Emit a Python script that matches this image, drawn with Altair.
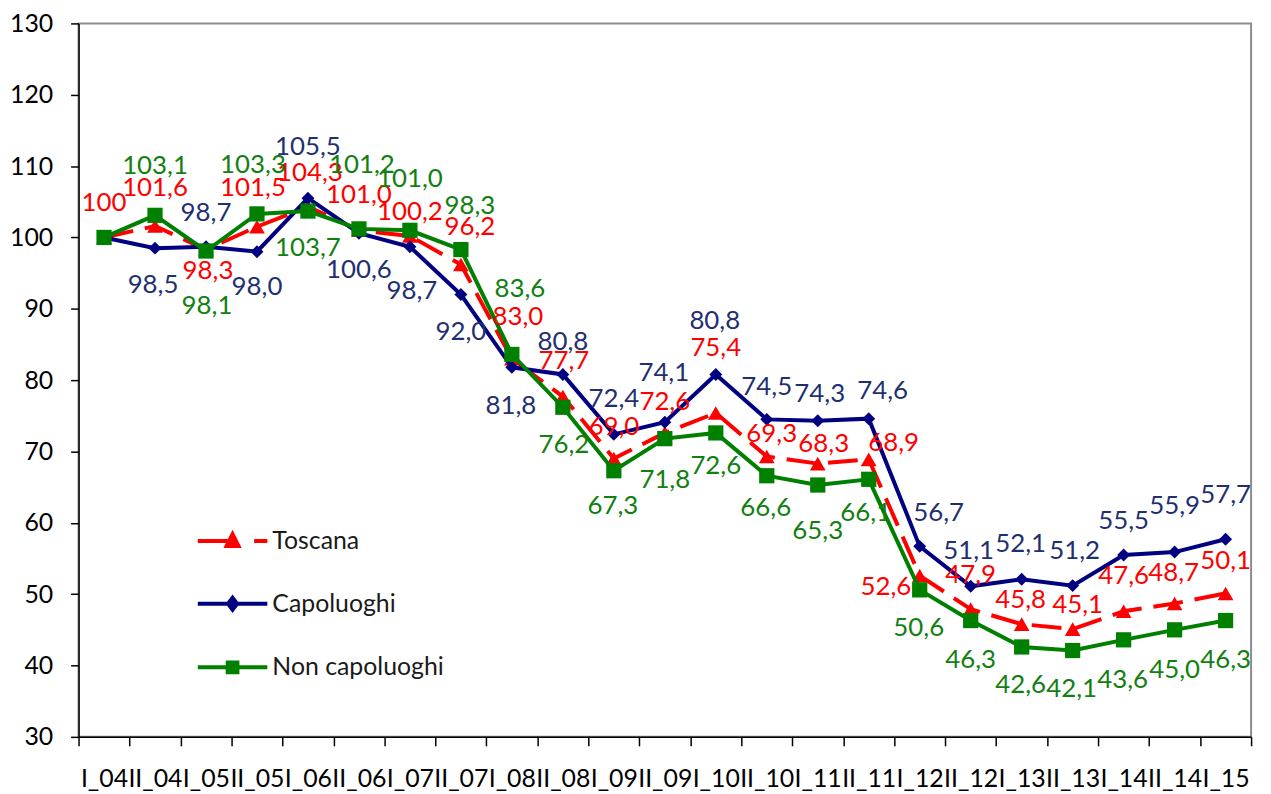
import altair as alt
import pandas as pd

# ---- data -------------------------------------------------------------
periods = ["I_04", "II_04", "I_05", "II_05", "I_06", "II_06", "I_07", "II_07",
           "I_08", "II_08", "I_09", "II_09", "I_10", "II_10", "I_11", "II_11",
           "I_12", "II_12", "I_13", "II_13", "I_14", "II_14", "I_15"]

toscana = [100.0, 101.6, 98.3, 101.5, 104.3, 101.0, 100.2, 96.2, 83.0, 77.7,
           69.0, 72.6, 75.4, 69.3, 68.3, 68.9, 52.6, 47.9, 45.8, 45.1, 47.6,
           48.7, 50.1]
capoluoghi = [100.0, 98.5, 98.7, 98.0, 105.5, 100.6, 98.7, 92.0, 81.8, 80.8,
              72.4, 74.1, 80.8, 74.5, 74.3, 74.6, 56.7, 51.1, 52.1, 51.2, 55.5,
              55.9, 57.7]
non_capoluoghi = [100.0, 103.1, 98.1, 103.3, 103.7, 101.2, 101.0, 98.3, 83.6,
                  76.2, 67.3, 71.8, 72.6, 66.6, 65.3, 66.1, 50.6, 46.3, 42.6,
                  42.1, 43.6, 45.0, 46.3]

series_names = ["Toscana", "Capoluoghi", "Non capoluoghi"]
series_values = [toscana, capoluoghi, non_capoluoghi]

# label texts shown on the chart (None = no label)
def fmt(v):
    return f"{v:.1f}".replace(".", ",")

toscana_labels = ["100"] + [fmt(v) for v in toscana[1:]]
capoluoghi_labels = [None] + [fmt(v) for v in capoluoghi[1:]]
non_capoluoghi_labels = [None] + [fmt(v) for v in non_capoluoghi[1:]]
series_labels = [toscana_labels, capoluoghi_labels, non_capoluoghi_labels]

# ---- styling / label placement (pixels) -------------------------------
line_colors = ["#FF0000", "#000080", "#008000"]
label_colors = ["#FF0000", "#1F3070", "#118011"]
marker_shapes = ["triangle-up", "diamond", "square"]
marker_sizes = [250, 170, 235]

toscana_dx = [0, 0, 2, -4, 2, 0, 0, 9, 6, 1, 0, 0, 0, 5, 6, 25, -34, 0, -1, 5, 0, -1, 0]
toscana_dy = [-35, -38, 22, -39, -34, -35, -24, -38, -42, -36, -32, -31, -65, -23,
              -20, -16, 12, -34, -24, -24, -35, -31, -33]
capoluoghi_dx = [0, -2, 0, 0, 0, 0, 2, 0, -1, 0, 0, -1, -1, 0, 2, 14, 19, -2, -1, 2, 0, 0, 0]
capoluoghi_dy = [0, 37, -34, 36, -51, 37, 45, 38, 39, -33, -36, -49, -54, -33, -27,
                 -28, -34, -35, -35, -35, -34, -46, -44]
non_capoluoghi_dx = [0, 0, 1, -4, 0, 3, 0, 9, 8, 1, -1, 0, 0, -1, 0, -3, -1, 0, -1, -1, -1, 0, 0]
non_capoluoghi_dy = [0, -50, 55, -49, 37, -64, -52, -44, -66, 38, 36, 42, 33, 33, 46,
                     34, 38, 40, 38, 39, 40, 40, 40]
series_dx = [toscana_dx, capoluoghi_dx, non_capoluoghi_dx]
series_dy = [toscana_dy, capoluoghi_dy, non_capoluoghi_dy]

# legend symbols: line + marker drawn as custom paths in the unit square
legend_paths = [
    "M-1,0L0,0M0.62,0L1,0M-0.17,0.14L0,-0.2L0.17,0.14Z",
    "M-1,0L1,0M-0.13,0L0,-0.17L0.13,0L0,0.17Z",
    "M-1,0L1,0M-0.14,-0.14L0.14,-0.14L0.14,0.14L-0.14,0.14Z",
]

FONT = "Lato"

# ---- tables -------------------------------------------------------------
rows = []
for s, vals, labs, dxs, dys in zip(series_names, series_values, series_labels,
                                   series_dx, series_dy):
    for i, (p, v, lab, dx, dy) in enumerate(zip(periods, vals, labs, dxs, dys)):
        rows.append({"series": s, "period": p, "idx": i, "value": v,
                     "label": lab, "dx": dx, "dy": dy})
df = pd.DataFrame(rows)

x_ticks = [i - 0.5 for i in range(len(periods) + 1)]
label_array = "[" + ",".join(f"'{p}'" for p in periods) + "]"

x_enc = alt.X(
    "idx:Q",
    scale=alt.Scale(domain=[-0.5, len(periods) - 0.5], nice=False, zero=False),
    axis=alt.Axis(
        values=x_ticks,
        labelExpr=f"{label_array}[round(datum.value + 0.5)] || ''",
        labelOffset=25.6,
        labelOverlap=False,
        labelBound=False,
        labelFlush=False,
        labelFont=FONT,
        labelFontSize=25,
        labelColor="#000000",
        labelPadding=21,
        tickSize=9,
        tickColor="#000000",
        tickWidth=1.5,
        domainColor="#000000",
        domainWidth=1.5,
        grid=False,
        title=None,
    ),
)
y_enc = alt.Y(
    "value:Q",
    scale=alt.Scale(domain=[30, 130], nice=False, zero=False),
    axis=alt.Axis(
        values=list(range(30, 131, 10)),
        labelFont=FONT,
        labelFontSize=25,
        labelColor="#000000",
        labelPadding=18,
        tickSize=8,
        tickColor="#000000",
        tickWidth=1.5,
        domainColor="#000000",
        domainWidth=1.5,
        grid=False,
        title=None,
    ),
)

base = alt.Chart(df)
layers = []
for k, s in enumerate(series_names):
    sub = base.transform_filter(alt.datum.series == s)
    line_kwargs = dict(color=line_colors[k], strokeWidth=4)
    if s == "Toscana":
        line_kwargs["strokeDash"] = [30, 12]
    layers.append(sub.mark_line(**line_kwargs).encode(x=x_enc, y=y_enc))
    layers.append(
        sub.mark_point(shape=marker_shapes[k], filled=True, opacity=1,
                       size=marker_sizes[k], color=line_colors[k])
        .encode(x=x_enc, y=y_enc)
    )

for k, s in enumerate(series_names):
    sub = base.transform_filter((alt.datum.series == s) & alt.expr.isValid(alt.datum.label))
    layers.append(
        sub.mark_text(font=FONT, fontSize=26, color=label_colors[k],
                      align="center", baseline="middle",
                      dx=alt.ExprRef("datum.dx"), dy=alt.ExprRef("datum.dy"))
        .encode(x=x_enc, y=y_enc, text="label:N")
    )

legend_def = alt.Legend(
    title=None,
    orient="none",
    legendX=118,
    legendY=484,
    padding=0,
    symbolSize=4900,
    symbolStrokeWidth=4,
    symbolOpacity=1,
    labelFont=FONT,
    labelFontSize=25,
    labelColor="#1a1a1a",
    labelOffset=3,
    labelLimit=400,
    rowPadding=13,
)
legend_layer = (
    base.transform_filter("false")
    .mark_point(filled=True, opacity=1)
    .encode(
        x=x_enc,
        y=y_enc,
        shape=alt.Shape("series:N", scale=alt.Scale(domain=series_names, range=legend_paths),
                        legend=legend_def),
        fill=alt.Fill("series:N", scale=alt.Scale(domain=series_names, range=line_colors),
                      legend=legend_def),
        stroke=alt.Stroke("series:N", scale=alt.Scale(domain=series_names, range=line_colors),
                          legend=legend_def),
    )
)
layers.append(legend_layer)

chart = (
    alt.layer(*layers)
    .properties(
        width=1180,
        height=718,
        autosize=alt.AutoSizeParams(type="none"),
        padding={"left": 71, "top": 13, "right": 12, "bottom": 55},
        background="#FFFFFF",
    )
    .configure_view(stroke="#8C8C8C", strokeWidth=2)
)

chart.save("out.html", embed_options={"renderer": "svg", "actions": False})
